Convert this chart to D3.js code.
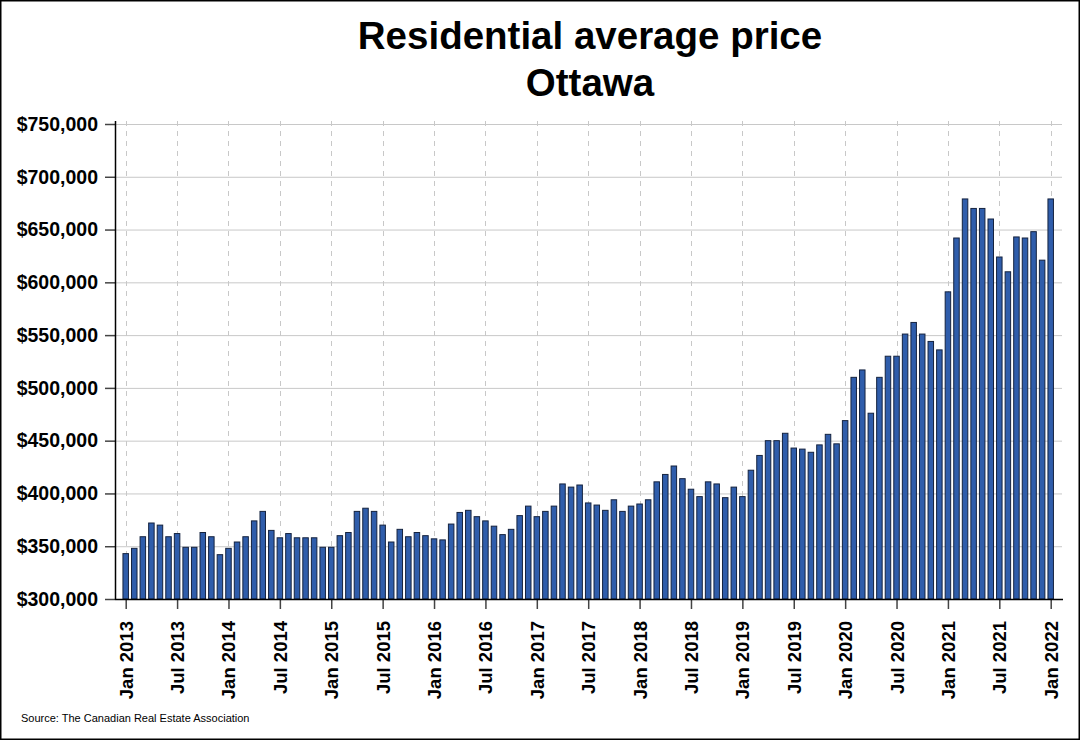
<!DOCTYPE html>
<html>
<head>
<meta charset="utf-8">
<script src="https://cdn.jsdelivr.net/npm/d3@7"></script>
<style>
	html, body { margin: 0; padding: 0; background: #fff; }
	svg { display: block; font-family: Arial, 'Liberation Sans', sans-serif; }
</style>
</head>
<body>
<svg id="chart" width="1080" height="740"></svg>
<script>
// data: monthly residential average price, Ottawa (CAD)
const prices2013 = [343000, 348000, 359000, 372000, 370000, 359000, 362000, 349000, 349000, 363000, 359000, 342000];
const prices2014 = [348000, 354000, 359000, 374000, 383000, 365000, 358000, 362000, 358000, 358000, 358000, 349000];
const prices2015 = [349000, 360000, 363000, 383000, 386000, 383000, 370000, 354000, 366000, 359000, 363000, 360000];
const prices2016 = [357000, 356000, 371000, 382000, 384000, 378000, 374000, 369000, 361000, 366000, 379000, 388000];
const prices2017 = [378000, 383000, 388000, 409000, 406000, 408000, 391000, 389000, 384000, 394000, 383000, 388000];
const prices2018 = [390000, 394000, 411000, 418000, 426000, 414000, 404000, 397000, 411000, 409000, 396000, 406000];
const prices2019 = [397000, 422000, 436000, 450000, 450000, 457000, 443000, 442000, 439000, 446000, 456000, 447000];
const prices2020 = [469000, 510000, 517000, 476000, 510000, 530000, 530000, 551000, 562000, 551000, 544000, 536000];
const prices2021 = [591000, 642000, 679000, 670000, 670000, 660000, 624000, 610000, 643000, 642000, 648000, 621000];
const prices2022 = [679000];

// x tick labels, one every six months starting Jan 2013
const tickLabels = [
	'Jan 2013', 'Jul 2013', 'Jan 2014', 'Jul 2014', 'Jan 2015', 'Jul 2015',
	'Jan 2016', 'Jul 2016', 'Jan 2017', 'Jul 2017', 'Jan 2018', 'Jul 2018',
	'Jan 2019', 'Jul 2019', 'Jan 2020', 'Jul 2020', 'Jan 2021', 'Jul 2021', 'Jan 2022'
];
const yTicks = [300000, 350000, 400000, 450000, 500000, 550000, 600000, 650000, 700000, 750000];

const titleLines = ['Residential average price', 'Ottawa'];
const sourceText = 'Source: The Canadian Real Estate Association';

// configs
const W = 1080, H = 740;
const PLOT_LEFT = 115, PLOT_RIGHT = 1063;
const PLOT_TOP = 121, PLOT_BOTTOM = 599;
const BAR_W = 5.5;
const BAR_FILL = '#2f5dab';
const BAR_STROKE = '#15233f';
const GRID = '#c8c8c8';
const TICK_COLOR = '#444';

const prices = [].concat(prices2013, prices2014, prices2015, prices2016, prices2017,
	prices2018, prices2019, prices2020, prices2021, prices2022);

const svg = d3.select('#chart');

// frame
svg.append('rect')
	.attr('x', 0.75).attr('y', 0.75)
	.attr('width', W - 1.5).attr('height', H - 1.5)
	.attr('fill', '#fff')
	.attr('stroke', '#000')
	.attr('stroke-width', 1.5);

// scales
const x = d3.scaleLinear()
	.domain([0, prices.length - 1])
	.range([125.7, 1050.7]);

const y = d3.scaleLinear()
	.domain([300000, 750000])
	.range([PLOT_BOTTOM, 124]);

const tickIdx = tickLabels.map((d, i) => i * 6);

// horizontal grid
svg.append('g')
	.selectAll('line')
	.data(yTicks.slice(1))
	.join('line')
	.attr('x1', PLOT_LEFT).attr('x2', PLOT_RIGHT - 1)
	.attr('y1', d => y(d) + 0.5).attr('y2', d => y(d) + 0.5)
	.attr('stroke', GRID)
	.attr('stroke-width', 1);

// vertical dashed grid at Jan / Jul
svg.append('g')
	.selectAll('line')
	.data(tickIdx)
	.join('line')
	.attr('x1', d => Math.round(x(d)) + 0.5).attr('x2', d => Math.round(x(d)) + 0.5)
	.attr('y1', PLOT_TOP).attr('y2', PLOT_BOTTOM)
	.attr('stroke', GRID)
	.attr('stroke-width', 1)
	.attr('stroke-dasharray', '5,5');

// bars
svg.append('g')
	.selectAll('rect')
	.data(prices)
	.join('rect')
	.attr('x', (d, i) => x(i) - BAR_W / 2)
	.attr('y', d => y(d))
	.attr('width', BAR_W)
	.attr('height', d => PLOT_BOTTOM - y(d))
	.attr('fill', BAR_FILL)
	.attr('stroke', BAR_STROKE)
	.attr('stroke-width', 1);

// y axis
const yAxis = svg.append('g')
	.attr('transform', `translate(${PLOT_LEFT},0)`)
	.call(d3.axisLeft(y)
		.tickValues(yTicks)
		.tickSize(10)
		.tickPadding(7)
		.tickFormat(d => '$' + d3.format(',')(d)));
yAxis.select('.domain').remove();
yAxis.selectAll('.tick line').attr('stroke', TICK_COLOR).attr('stroke-width', 1.5);
yAxis.selectAll('.tick text')
	.attr('fill', '#000')
	.style('font-size', '19.5px')
	.style('font-weight', 'bold');

// x axis
const xAxis = svg.append('g')
	.attr('transform', `translate(0,${PLOT_BOTTOM})`)
	.call(d3.axisBottom(x)
		.tickValues(tickIdx)
		.tickSize(10)
		.tickFormat((d, i) => tickLabels[i]));
xAxis.select('.domain').remove();
xAxis.selectAll('.tick line').attr('stroke', TICK_COLOR).attr('stroke-width', 1.5);
xAxis.selectAll('.tick text')
	.attr('fill', '#000')
	.attr('transform', 'rotate(-90)')
	.attr('text-anchor', 'end')
	.attr('x', -22)
	.attr('y', 0)
	.attr('dy', '0.35em')
	.style('font-size', '18.5px')
	.style('font-weight', 'bold');

// axis spines
svg.append('line')
	.attr('x1', PLOT_LEFT + 0.5).attr('x2', PLOT_LEFT + 0.5)
	.attr('y1', PLOT_TOP).attr('y2', PLOT_BOTTOM + 1)
	.attr('stroke', '#000').attr('stroke-width', 1.5);
svg.append('line')
	.attr('x1', PLOT_LEFT).attr('x2', PLOT_RIGHT)
	.attr('y1', PLOT_BOTTOM + 0.5).attr('y2', PLOT_BOTTOM + 0.5)
	.attr('stroke', '#000').attr('stroke-width', 1.5);

// title
svg.append('g')
	.selectAll('text')
	.data(titleLines)
	.join('text')
	.attr('x', 590)
	.attr('y', (d, i) => 49 + i * 47)
	.attr('text-anchor', 'middle')
	.style('font-size', '38.5px')
	.style('font-weight', 'bold')
	.text(d => d);

// source note
svg.append('text')
	.attr('x', 21)
	.attr('y', 722)
	.style('font-size', '11px')
	.text(sourceText);
</script>
</body>
</html>
